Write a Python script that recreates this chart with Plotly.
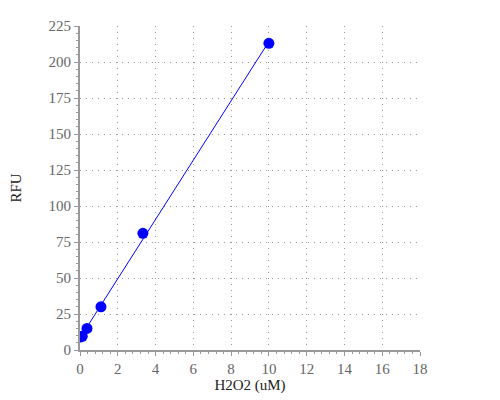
import numpy as np
import plotly.graph_objects as go

h2o2_um = [0, 0.12, 0.37, 1.11, 3.33, 10]
rfu = [9, 9.5, 15, 30, 81, 213]
x_ticks = [0, 2, 4, 6, 8, 10, 12, 14, 16, 18]
y_ticks = [0, 25, 50, 75, 100, 125, 150, 175, 200, 225]

slope, intercept = np.polyfit(h2o2_um, rfu, 1)
fit_x = [min(h2o2_um), max(h2o2_um)]
fit_y = [slope * v + intercept for v in fit_x]

FONT = "Liberation Serif"

fig = go.Figure()
fig.add_trace(go.Scatter(x=fit_x, y=fit_y, mode="lines",
                         line=dict(color="#0000ff", width=1), showlegend=False))
fig.add_trace(go.Scatter(x=h2o2_um, y=rfu, mode="markers",
                         marker=dict(color="#0000ff", size=11), showlegend=False))

axis_common = dict(
    showline=True, linecolor="#999999", linewidth=2,
    ticks="outside", tickcolor="#999999", ticklen=4, tickwidth=1,
    tickfont=dict(family=FONT, size=15, color="#666666"),
    showgrid=True, gridcolor="#999999", griddash="1px,5px", gridwidth=1,
    zeroline=False,
    title_font=dict(family=FONT, size=15, color="#222222"),
)

fig.update_xaxes(range=[0, 18], tickvals=x_ticks, title_text="H2O2 (uM)",
                 minor=dict(dtick=0.4, ticks="outside", ticklen=2, tickcolor="#999999", showgrid=False),
                 title_standoff=2, **axis_common)
fig.update_yaxes(range=[0, 225], tickvals=y_ticks, title_text="RFU",
                 minor=dict(dtick=5, ticks="outside", ticklen=2, tickcolor="#999999", showgrid=False),
                 title_standoff=38, **axis_common)

fig.update_layout(width=500, height=400, plot_bgcolor="white", paper_bgcolor="white",
                  margin=dict(l=72, r=88, t=18, b=58, autoexpand=False),
                  font=dict(family=FONT))
fig.write_html("out.html")
